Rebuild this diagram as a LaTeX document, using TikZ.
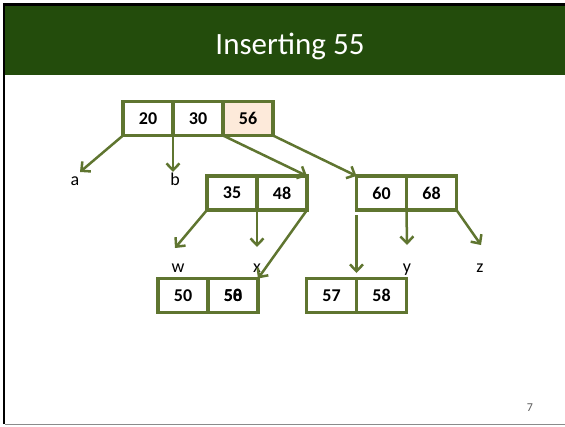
\documentclass[tikz,border=0pt]{standalone}
\usepackage{fontspec}
\setmainfont{Carlito}
\usetikzlibrary{arrows.meta, positioning}

\definecolor{titlegreen}{RGB}{35,76,12}
\definecolor{olive}{RGB}{95,117,48}
\definecolor{peach}{RGB}{253,234,218}
\definecolor{pagegray}{RGB}{89,89,89}

\begin{document}
\begin{tikzpicture}[
  x=1pt, y=-1pt,
  cell/.style={draw=olive, line width=3.5pt, outer sep=0pt, inner sep=0pt, minimum width=50pt, minimum height=34pt, font=\fontsize{18}{20}\selectfont\bfseries},
  newkey/.style={cell, fill=peach},
  leaf/.style={anchor=base, inner sep=0pt, font=\fontsize{18}{20}\selectfont},
  arr/.style={draw=olive, line width=2.5pt, -{Straight Barb[length=2.4mm,width=4.6mm]}}
]
\useasboundingbox (0,0) rectangle (565,426);
% slide frame and title
\fill[titlegreen] (5,6) rectangle (565,75);
\draw[line width=2.5pt] (4,424) -- (4,4.5) -- (565,4.5);
\draw[pagegray!70, line width=1.2pt] (5,424.5) -- (565,424.5);
\node[anchor=base, text=white, font=\fontsize{31}{34}\selectfont] (title) at (290,54) {Inserting 55};

% root
\node[cell] (k20) at (148,118.5) {20};
\node[cell, right=0pt of k20] (k30) {30};
\node[newkey, right=0pt of k30] (k56) {56};

% second level
\node[cell] (k35) at (232,193) {35};
\node[cell, right=0pt of k35] (k48) {48};
\node[cell] (k60) at (381.5,193) {60};
\node[cell, right=0pt of k60] (k68) {68};

% bottom level
\node[cell] (k50) at (183,295.5) {50};
\node[cell, right=0pt of k50] (k5x) {};
\node[font=\fontsize{18}{20}\selectfont\bfseries] (k5a) at (k5x) {50};
\node[font=\fontsize{18}{20}\selectfont\bfseries] (k5b) at (k5x) {58};
\node[cell] (k57) at (331.5,295.5) {57};
\node[cell, right=0pt of k57] (k58) {58};

% subtree labels
\node[leaf] (la) at (75,185) {a};
\node[leaf] (lb) at (175,185) {b};
\node[leaf] (lw) at (178,272) {w};
\node[leaf] (lx) at (257,272) {x};
\node[leaf] (ly) at (407,272) {y};
\node[leaf] (lz) at (480,272) {z};
\coordinate (ta) at (80,172);
\coordinate (tb) at (173,172);
\coordinate (tw) at (175,248);
\coordinate (tx) at (257,247);
\coordinate (ty) at (407,245);
\coordinate (tz) at (481,245);

% pointers
\draw[arr] (k20.south west) -- (ta);
\draw[arr] (k20.south east) -- (tb);
\draw[arr] (k30.south east) -- (k48.north east);
\draw[arr] (k56.south east) -- (k60.north west);
\draw[arr] (k35.south west) -- (tw);
\draw[arr] (k35.south east) -- (tx);
\draw[arr] (k48.south east) -- (k5x.north east);
\draw[arr] ([yshift=-5pt]k60.south west) -- ([yshift=5.5pt]k57.north east);
\draw[arr] (k60.south east) -- (ty);
\draw[arr] (k68.south east) -- (tz);

\node[text=pagegray, font=\fontsize{12}{13}\selectfont] (page) at (530,408) {7};
\end{tikzpicture}
\end{document}
